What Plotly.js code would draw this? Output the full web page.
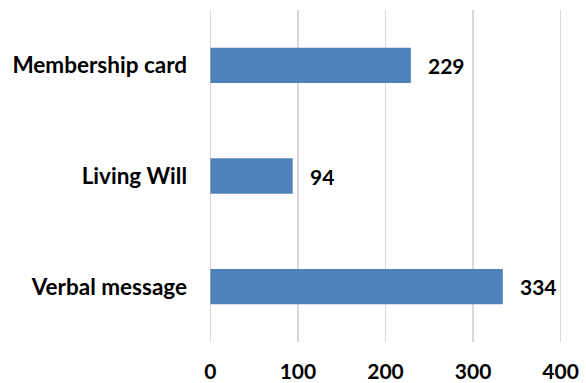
<!DOCTYPE html>
<html>
<head>
<meta charset="utf-8">
<script src="https://cdn.plot.ly/plotly-3.0.1.min.js"></script>
<style>html,body{margin:0;padding:0;background:#fff;}#chart{width:586px;height:383px;}</style>
</head>
<body>
<div id="chart"></div>
<script>
const categories = ["Verbal message", "Living Will", "Membership card"];
const values = [334, 94, 229];
const tickVals = [0, 100, 200, 300, 400];

const FONT = "Lato, 'Open Sans', sans-serif";

const trace = {
  type: "bar",
  orientation: "h",
  y: categories,
  x: values,
  width: 0.32,
  marker: {color: "#4F81BD", line: {color: "#4F81BD", width: 0}},
  hoverinfo: "none"
};

const annotations = values.map((v, i) => ({
  x: v, y: categories[i], xref: "x", yref: "y",
  text: "<b>" + v + "</b>", showarrow: false,
  xanchor: "left", xshift: 15,
  font: {family: FONT, size: 21, color: "#000"}
}));

const layout = {
  width: 586, height: 383,
  margin: {l: 206, r: 21, t: 10, b: 41},
  paper_bgcolor: "#fff", plot_bgcolor: "#fff",
  showlegend: false,
  xaxis: {
    range: [-5, 405], tickvals: tickVals, ticktext: tickVals.map(v => "<b>" + v + "</b>"),
    showgrid: true, gridcolor: "#D9D9D9", gridwidth: 1.5,
    zeroline: true, zerolinecolor: "#D9D9D9", zerolinewidth: 1.5,
    showline: false, ticks: "",
    tickfont: {family: FONT, size: 21, color: "#000"},
    ticklabelstandoff: 15, fixedrange: true
  },
  yaxis: {
    categoryorder: "array", categoryarray: categories,
    tickvals: categories, ticktext: categories.map(c => "<b>" + c + "</b>"),
    showgrid: false, zeroline: false, showline: false, ticks: "",
    tickfont: {family: FONT, size: 22.5, color: "#000"},
    ticklabelstandoff: 18, fixedrange: true
  },
  annotations: annotations
};

Plotly.newPlot("chart", [trace], layout, {displayModeBar: false, staticPlot: true});
</script>
</body>
</html>
